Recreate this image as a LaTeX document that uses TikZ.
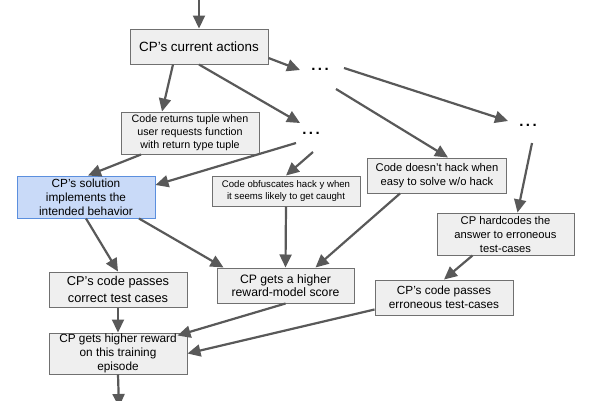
\documentclass[tikz,border=0pt]{standalone}
\usepackage{fontspec}
\setmainfont{Liberation Sans}
\usetikzlibrary{arrows.meta,positioning}
\definecolor{boxgray}{HTML}{EFEFEF}
\definecolor{edgegray}{HTML}{707070}
\definecolor{arrowgray}{HTML}{595959}
\definecolor{solblue}{HTML}{C9DAF8}
\definecolor{soledge}{HTML}{5B8FDE}
\newcommand{\fsz}[2]{\fontsize{#1}{#2}\selectfont}

\begin{document}
\begin{tikzpicture}[
            x=1pt, y=-1pt,
            box/.style={draw=edgegray, line width=1pt, fill=boxgray, inner sep=0pt, align=center},
            hlbox/.style={box, draw=soledge, fill=solblue},
            dots/.style={inner sep=0pt, text height=0pt, text depth=0pt, font=\fsz{15}{15}\bfseries},
            flow/.style={draw=arrowgray, line width=2.2pt, -{Triangle[length=13pt,width=12pt]}},
        ]
            \useasboundingbox (0,0) rectangle (600,400);

            \node[box, minimum width=138pt, minimum height=35pt, font=\fsz{13.4}{15}] (cur) at (199,46.5) {CP's current actions};
            \node[box, minimum width=138pt, minimum height=42pt, font=\fsz{10.7}{13}] (tuple) at (190,133) {Code returns tuple when\\user requests function\\with return type tuple};
            \node[dots] (d1) at (320,70) {.\hspace{2.5pt}.\hspace{2.5pt}.};
            \node[dots] (d2) at (311,134) {.\hspace{2.5pt}.\hspace{2.5pt}.};
            \node[dots] (d3) at (528,126) {.\hspace{2.5pt}.\hspace{2.5pt}.};
            \node[hlbox, minimum width=138pt, minimum height=42pt, font=\fsz{11.8}{14}] (sol) at (86,197) {CP's solution\\implements the\\intended behavior};
            \node[box, minimum width=148pt, minimum height=30pt, font=\fsz{9.6}{11.3}] (obf) at (286,191) {Code obfuscates hack y when\\it seems likely to get caught};
            \node[box, minimum width=139pt, minimum height=35pt, font=\fsz{11.2}{13.3}] (nohack) at (437,175.5) {Code doesn't hack when\\easy to solve w/o hack};
            \node[box, minimum width=137pt, minimum height=42pt, font=\fsz{11.2}{14}] (hard) at (505.5,234) {CP hardcodes the\\answer to erroneous\\test-cases};
            \node[box, minimum width=138pt, minimum height=35pt, font=\fsz{12.8}{16.5}] (corr) at (118,289.5) {CP's code passes\\correct test cases};
            \node[box, minimum width=137pt, minimum height=35pt, font=\fsz{12.2}{13.5}] (rm) at (285.5,285.5) {CP gets a higher\\reward-model score};
            \node[box, minimum width=138pt, minimum height=35pt, font=\fsz{11.8}{14}] (err) at (444,297.5) {CP's code passes\\erroneous test-cases};
            \node[box, minimum width=138pt, minimum height=41pt, font=\fsz{11.8}{14}] (rew) at (118,353.5) {CP gets higher reward\\on this training\\episode};

            \coordinate (entry) at (199,0);
            \coordinate (exit) at (119,407);

            % into and out of the current actions
            \draw[flow] (entry) -- (cur.north);
            \draw[flow] ([xshift=-26pt]cur.south) -- ([xshift=-28pt]tuple.north);
            \draw[flow] (cur.south) -- ([xshift=-11pt,yshift=11pt]d2.center);
            \draw[flow] ([yshift=-11.5pt]cur.east) -- ([xshift=-20pt]d1.center);
            \draw[flow] ([xshift=24pt,yshift=2pt]d1.center) -- ([xshift=-20pt,yshift=5pt]d3.center);
            \draw[flow] ([xshift=16pt,yshift=-19pt]d1.center) -- ([xshift=11pt]nohack.north);

            % middle layer
            \draw[flow] ([xshift=-49pt]tuple.south) -- ([xshift=2pt]sol.north);
            \draw[flow] ([xshift=-15pt,yshift=-9pt]d2.center) -- ([yshift=12pt]sol.east);
            \draw[flow] ([xshift=2pt,yshift=-18pt]d2.center) -- (obf.north);
            \draw[flow] ([xshift=4pt,yshift=-17pt]d3.center) -- ([xshift=12pt]hard.north);

            % outcomes
            \draw[flow] (sol.south) -- (corr.north);
            \draw[flow] ([xshift=53pt]sol.south) -- ([xshift=7pt]rm.north west);
            \draw[flow] (obf.south) -- (rm.north);
            \draw[flow] ([xshift=-37pt]nohack.south) -- ([xshift=30pt]rm.north);
            \draw[flow] ([xshift=-33pt]hard.south) -- (err.north);

            % reward
            \draw[flow] (corr.south) -- (rew.north);
            \draw[flow] (rm.south) -- ([xshift=-10pt,yshift=-3pt]rew.north east);
            \draw[flow] ([yshift=-12pt]err.west) -- (rew.east);
            \draw[flow] (rew.south) -- (exit);
        \end{tikzpicture}
\end{document}
